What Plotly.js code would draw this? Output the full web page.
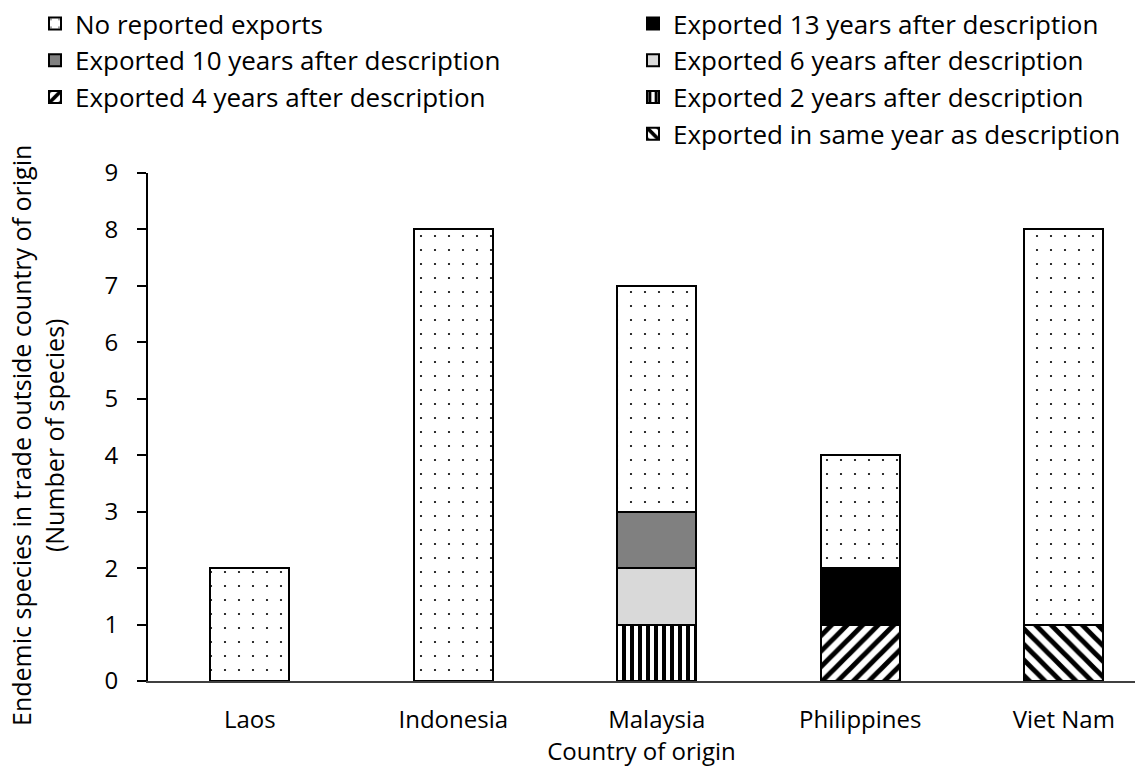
<!DOCTYPE html>
<html><head><meta charset="utf-8">
<script src="https://cdn.plot.ly/plotly-3.0.1.min.js"></script>
<style>html,body{margin:0;padding:0;background:#fff}#chart{width:1135px;height:767px}</style>
</head><body><div id="chart"></div>
<script>
const countries = ['Laos', 'Indonesia', 'Malaysia', 'Philippines', 'Viet Nam'];
const sameYear = [0, 0, 0, 0, 1];
const twoYears = [0, 0, 1, 0, 0];
const fourYears = [0, 0, 0, 1, 0];
const sixYears = [0, 0, 1, 0, 0];
const thirteenYears = [0, 0, 0, 1, 0];
const tenYears = [0, 0, 1, 0, 0];
const noExports = [2, 8, 4, 2, 7];
const yTicks = [0, 1, 2, 3, 4, 5, 6, 7, 8, 9];
const yTitle = 'Endemic species in trade outside country of origin<br>(Number of species)';
const xTitle = 'Country of origin';

const FONT = '"Open Sans", "Noto Sans", sans-serif';
const nz = a => a.map(v => v === 0 ? null : v);
const W = 0.39;
function tr(name, vals, color, pattern, legend, rank) {
  const m = {color: color, line: {color: '#000', width: 2}};
  if (pattern) m.pattern = pattern;
  return {type: 'bar', x: countries, y: nz(vals), name: name, marker: m, width: W,
          legend: legend, legendrank: rank, hoverinfo: 'x+y+name'};
}
const traces = [
  tr('Exported in same year as description', sameYear, '#fff', {shape: '\\', fgcolor: '#000', bgcolor: '#fff', size: 11, solidity: 0.45, fillmode: 'replace'}, 'legend2', 4),
  tr('Exported 2 years after description', twoYears, '#fff', {shape: '|', fgcolor: '#000', bgcolor: '#fff', size: 8, solidity: 0.5, fillmode: 'replace'}, 'legend2', 3),
  tr('Exported 4 years after description', fourYears, '#fff', {shape: '/', fgcolor: '#000', bgcolor: '#fff', size: 11, solidity: 0.45, fillmode: 'replace'}, 'legend', 3),
  tr('Exported 6 years after description', sixYears, '#d9d9d9', null, 'legend2', 2),
  tr('Exported 13 years after description', thirteenYears, '#000', null, 'legend2', 1),
  tr('Exported 10 years after description', tenYears, '#808080', null, 'legend', 2),
  tr('No reported exports', noExports, '#fff', {shape: '.', fgcolor: '#000', bgcolor: '#fff', size: 14, solidity: 0.02, fillmode: 'replace'}, 'legend', 1)
];

const legCommon = {orientation: 'v', traceorder: 'normal', font: {family: FONT, size: 26, color: '#000'},
  xref: 'container', yref: 'container', xanchor: 'left', yanchor: 'top', bgcolor: 'rgba(0,0,0,0)', itemclick: false};

const L = 148, T = 173, B = 86, PW = 1135 - L, PH = 767 - T - B;
const layout = {
  width: 1135, height: 767,
  margin: {l: L, r: 0, t: T, b: B, autoexpand: false},
  paper_bgcolor: '#fff', plot_bgcolor: '#fff',
  barmode: 'stack',
  font: {family: FONT, color: '#000'},
  showlegend: true,
  legend: Object.assign({}, legCommon, {x: 35 / 1135, y: 1.0 + 2 / 767}),
  legend2: Object.assign({}, legCommon, {x: 633 / 1135, y: 1.0 + 2 / 767}),
  xaxis: {
    range: [-0.5, 4.35], showgrid: false, zeroline: false, automargin: true,
    showline: true, linecolor: '#404040', linewidth: 2,
    ticks: '', tickfont: {family: FONT, size: 24, color: '#000'}, tickangle: 0, ticklabelstandoff: 16,
    title: {text: xTitle, font: {family: FONT, size: 24, color: '#000'}, standoff: 0}
  },
  yaxis: {
    range: [0, 9], tickvals: yTicks, ticktext: yTicks.map(String),
    showgrid: false, zeroline: false, automargin: true,
    showline: true, linecolor: '#000', linewidth: 2,
    ticks: 'outside', ticklen: 9, tickwidth: 2, tickcolor: '#000', ticklabelstandoff: 14,
    tickfont: {family: FONT, size: 24, color: '#000'}
  },
  annotations: [{
    text: yTitle, xref: 'paper', yref: 'paper', x: (37 - L) / PW, y: (681 - 436) / PH,
    xanchor: 'center', yanchor: 'middle', textangle: -90, showarrow: false,
    font: {family: FONT, size: 25, color: '#000'}
  }]
};
Plotly.newPlot('chart', traces, layout, {displayModeBar: false, staticPlot: true});
</script>
</body></html>
